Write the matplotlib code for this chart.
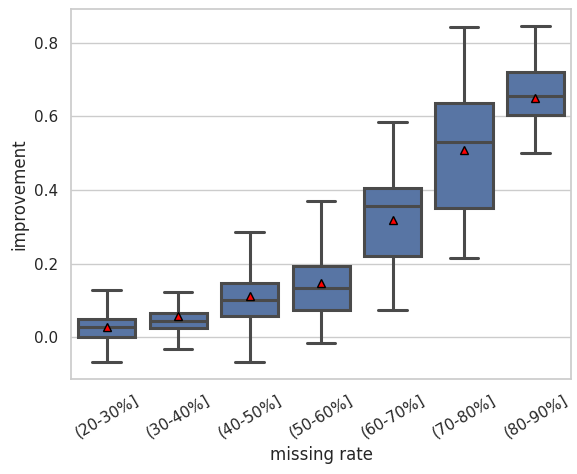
import matplotlib
matplotlib.use("Agg")
import matplotlib.pyplot as plt
import seaborn as sns

sns.set_theme(style="whitegrid")

# data
labels = ["(20-30%]", "(30-40%]", "(40-50%]", "(50-60%]", "(60-70%]", "(70-80%]", "(80-90%]"]
whislo = [-0.068, -0.033, -0.068, -0.016, 0.074, 0.215, 0.500]
q1 = [0.000, 0.025, 0.057, 0.074, 0.222, 0.351, 0.604]
med = [0.027, 0.044, 0.101, 0.133, 0.356, 0.531, 0.656]
q3 = [0.050, 0.065, 0.148, 0.194, 0.405, 0.637, 0.721]
whishi = [0.128, 0.123, 0.287, 0.370, 0.584, 0.841, 0.844]
means = [0.028, 0.058, 0.111, 0.147, 0.319, 0.509, 0.650]

stats = []
for i in range(len(labels)):
    stats.append(dict(label=labels[i], whislo=whislo[i], q1=q1[i], med=med[i],
                      q3=q3[i], whishi=whishi[i], mean=means[i], fliers=[]))

fig, ax = plt.subplots(figsize=(5.77, 4.74), dpi=100)

lc = "#4a4a4a"
lw = 2.2
ax.bxp(stats, positions=range(len(labels)), widths=0.8, showmeans=True,
       patch_artist=True, capwidths=0.4,
       boxprops=dict(facecolor="#5875a4", edgecolor=lc, linewidth=lw),
       medianprops=dict(color=lc, linewidth=lw),
       whiskerprops=dict(color=lc, linewidth=lw),
       capprops=dict(color=lc, linewidth=lw),
       meanprops=dict(marker="^", markerfacecolor="red", markeredgecolor="black",
                      markersize=6))

ax.set_xlim(-0.5, len(labels) - 0.5)
ax.set_xticks(range(len(labels)))
ax.set_xticklabels(labels, rotation=30)
ax.xaxis.grid(False)
ax.set_xlabel("missing rate")
ax.set_ylabel("improvement")
ax.margins(y=0.05)

fig.subplots_adjust(left=0.123, right=0.99, top=0.98, bottom=0.2)
fig.savefig("out.png")
